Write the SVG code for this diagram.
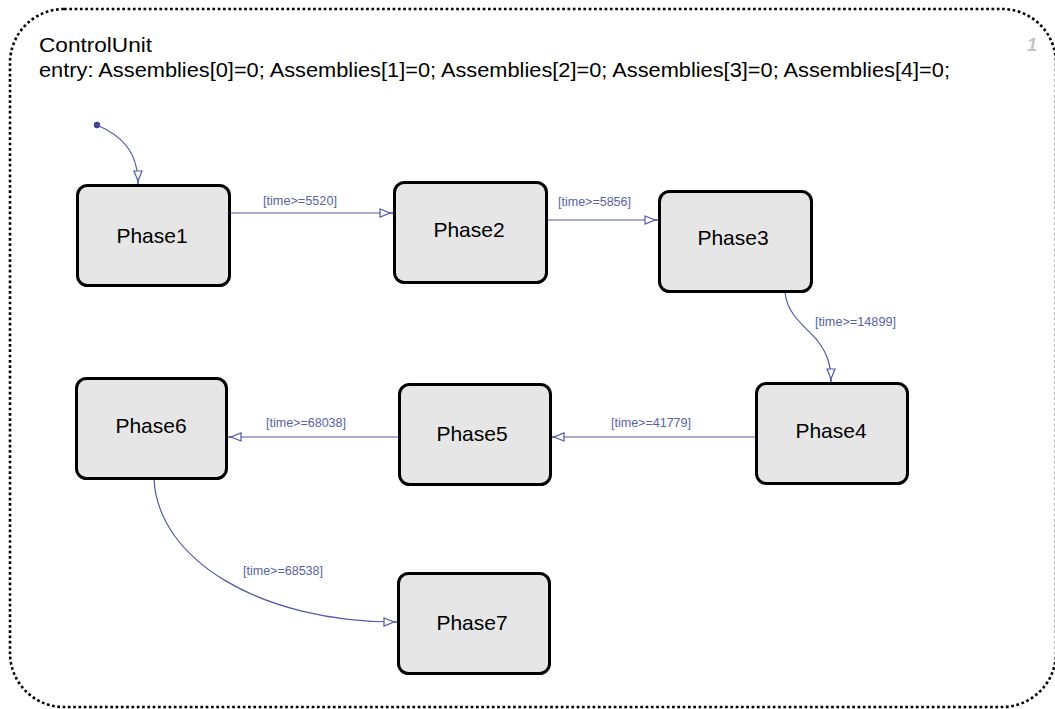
<svg xmlns="http://www.w3.org/2000/svg" width="1055" height="709" viewBox="0 0 1055 709">
<style>
.frame{fill:none;stroke:#000;stroke-width:2.6;stroke-dasharray:2.7 2.6}
.state rect{fill:#e6e6e6;stroke:#000;stroke-width:3}
.state text{font-family:"Liberation Sans",Arial,sans-serif;font-size:21px;fill:#000;text-anchor:middle}
.hdr{font-family:"Liberation Sans",Arial,sans-serif;font-size:20px;fill:#000}
.conn path{fill:none;stroke:#5059a6;stroke-width:1.2}
.lbl{font-family:"Liberation Sans",Arial,sans-serif;font-size:12px;fill:#5762aa}
</style>
<defs>
<marker id="arr" viewBox="-15 -6 16 12" refX="0" refY="0" markerWidth="16" markerHeight="12" markerUnits="userSpaceOnUse" orient="auto" overflow="visible">
<path d="M-13,-4 L-3,0 L-13,4 Z" fill="#fff" stroke="#5059a6" stroke-width="1.2"/>
<path d="M-3,0 L0,0" stroke="#5059a6" stroke-width="1.2"/>
</marker>
</defs>
<rect width="1055" height="709" fill="#fff"/>
<rect class="frame" x="10" y="9" width="1046" height="698" rx="54" ry="54"/>
<text class="hdr" x="39" y="52" textLength="113" lengthAdjust="spacingAndGlyphs">ControlUnit</text>
<text class="hdr" x="39" y="77" textLength="911" lengthAdjust="spacingAndGlyphs">entry: Assemblies[0]=0; Assemblies[1]=0; Assemblies[2]=0; Assemblies[3]=0; Assemblies[4]=0;</text>
<text x="1027" y="51" font-family="Liberation Sans, Arial, sans-serif" font-size="18" font-style="italic" font-weight="bold" fill="#c4c4c4">1</text>

<g id="connectors" class="conn">
<circle cx="97" cy="125" r="3.2" fill="#3c4290"/>
<path d="M97,125 C120,135 138,150 138,184" marker-end="url(#arr)"/>
<path d="M231,213 L393,213" marker-end="url(#arr)"/>
<path d="M548,220 L658,220" marker-end="url(#arr)"/>
<path d="M785,292 C787,315 805,326 817,340 C828,354 831,366 831,382" marker-end="url(#arr)"/>
<path d="M755,437 L551,437" marker-end="url(#arr)"/>
<path d="M398,437 L228,437" marker-end="url(#arr)"/>
<path d="M154,479 C158,560 260,622 397,622" marker-end="url(#arr)"/>
<text class="lbl" x="263" y="205" textLength="74" lengthAdjust="spacingAndGlyphs">[time&gt;=5520]</text>
<text class="lbl" x="558" y="206" textLength="73" lengthAdjust="spacingAndGlyphs">[time&gt;=5856]</text>
<text class="lbl" x="815" y="326" textLength="81" lengthAdjust="spacingAndGlyphs">[time&gt;=14899]</text>
<text class="lbl" x="611" y="427" textLength="80" lengthAdjust="spacingAndGlyphs">[time&gt;=41779]</text>
<text class="lbl" x="266" y="427" textLength="80" lengthAdjust="spacingAndGlyphs">[time&gt;=68038]</text>
<text class="lbl" x="243" y="575" textLength="80" lengthAdjust="spacingAndGlyphs">[time&gt;=68538]</text>
</g>

<g id="Phase1" class="state"><rect x="77.5" y="185.5" width="152" height="100" rx="10"/><text x="152" y="243">Phase1</text></g>
<g id="Phase2" class="state"><rect x="394.5" y="182.5" width="152" height="100" rx="10"/><text x="469" y="237">Phase2</text></g>
<g id="Phase3" class="state"><rect x="659.5" y="191.5" width="152" height="100" rx="10"/><text x="733" y="245">Phase3</text></g>
<g id="Phase4" class="state"><rect x="756.5" y="383.5" width="151" height="100" rx="10"/><text x="831" y="438">Phase4</text></g>
<g id="Phase5" class="state"><rect x="399.5" y="384.5" width="151" height="100" rx="10"/><text x="472" y="441">Phase5</text></g>
<g id="Phase6" class="state"><rect x="76.5" y="378.5" width="150" height="100" rx="10"/><text x="151" y="433">Phase6</text></g>
<g id="Phase7" class="state"><rect x="398.5" y="573.5" width="151" height="100" rx="10"/><text x="472" y="630">Phase7</text></g>
</svg>
